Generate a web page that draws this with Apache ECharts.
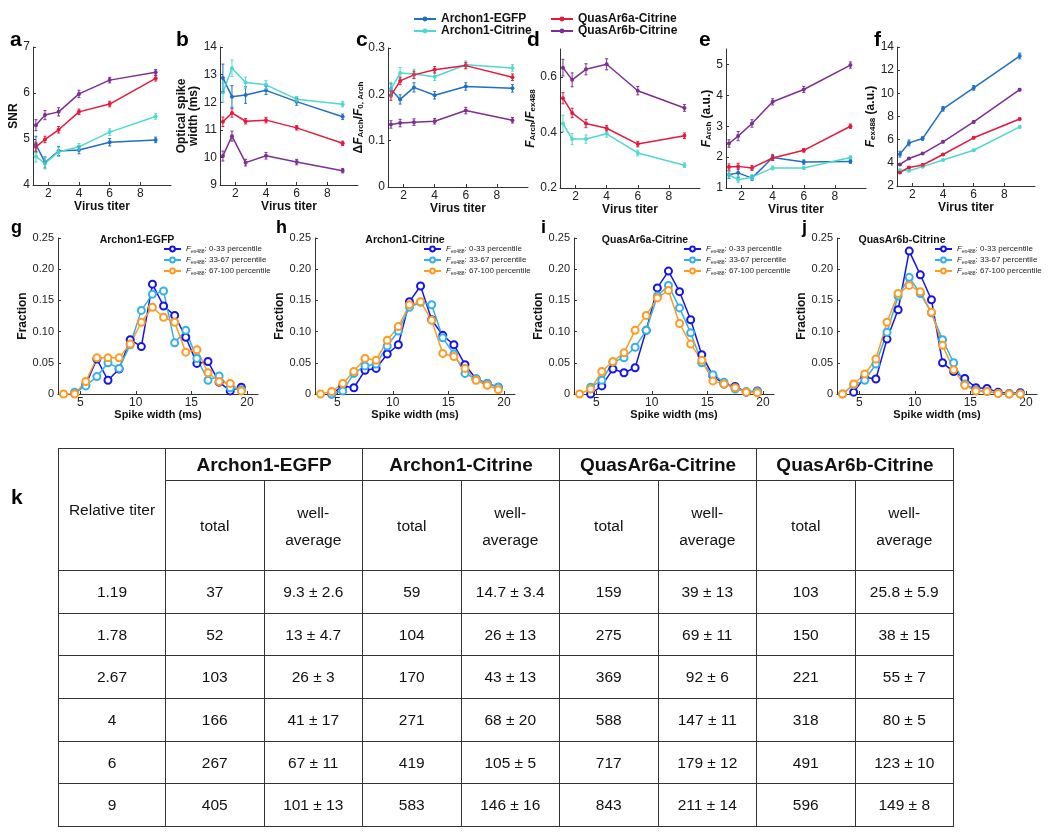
<!DOCTYPE html>
<html>
<head>
<meta charset="utf-8">
<script src="https://cdn.jsdelivr.net/npm/echarts@6/dist/echarts.min.js"></script>
<style>
  body { margin: 0; background: #fff; }
  #wrap { position: relative; width: 1050px; height: 836px; }
  #chart { position: absolute; left: 0; top: 0; width: 1050px; height: 836px; }
  #tbl {
    position: absolute; left: 58px; top: 448px;
    border-collapse: collapse; table-layout: fixed; width: 895px;
    font-family: "Liberation Sans", Arial, sans-serif; font-size: 15.5px; color: #111;
  }
  #tbl td { border: 1.5px solid #333; text-align: center; padding: 0; }
  #tbl .grp { font-weight: bold; font-size: 19px; height: 31px; }
  #tbl .sub td { height: 89px; line-height: 27px; }
  #tbl .row td { height: 41.7px; }
</style>
</head>
<body>
<div id="wrap">
  <div id="chart"></div>
  <table id="tbl"></table>
</div>
<script>
// ---- top row (a-f): values at each virus titer ----
const titerX = [1.19, 1.78, 2.67, 4, 6, 9];
const constructs = ['Archon1-EGFP', 'Archon1-Citrine', 'QuasAr6a-Citrine', 'QuasAr6b-Citrine'];

// a: SNR
const snrEgfp = [4.88, 4.49, 4.74, 4.76, 4.93, 4.98];
const snrEgfpErr = [0.18, 0.12, 0.1, 0.08, 0.08, 0.06];
const snrCit = [4.62, 4.47, 4.72, 4.83, 5.15, 5.49];
const snrCitErr = [0.12, 0.12, 0.1, 0.07, 0.07, 0.06];
const snr6a = [4.83, 4.99, 5.2, 5.59, 5.76, 6.32];
const snr6aErr = [0.1, 0.07, 0.07, 0.06, 0.06, 0.06];
const snr6b = [5.3, 5.52, 5.59, 5.98, 6.28, 6.45];
const snr6bErr = [0.12, 0.1, 0.09, 0.08, 0.06, 0.06];

// b: optical spike width (ms)
const wEgfp = [12.88, 12.2, 12.26, 12.43, 12.02, 11.47];
const wEgfpErr = [0.5, 0.4, 0.3, 0.15, 0.13, 0.1];
const wCit = [12.35, 13.23, 12.71, 12.63, 12.11, 11.93];
const wCitErr = [0.35, 0.3, 0.2, 0.15, 0.1, 0.1];
const w6a = [11.29, 11.61, 11.31, 11.35, 11.07, 10.51];
const w6aErr = [0.17, 0.15, 0.1, 0.1, 0.08, 0.08];
const w6b = [10.05, 10.77, 9.81, 10.06, 9.83, 9.52];
const w6bErr = [0.18, 0.18, 0.12, 0.12, 0.1, 0.08];

// c: dF/F
const dfEgfp = [0.211, 0.189, 0.215, 0.198, 0.217, 0.213];
const dfEgfpErr = [0.012, 0.01, 0.01, 0.008, 0.008, 0.008];
const dfCit = [0.211, 0.246, 0.244, 0.238, 0.264, 0.257];
const dfCitErr = [0.015, 0.012, 0.01, 0.008, 0.008, 0.007];
const df6a = [0.197, 0.229, 0.242, 0.253, 0.262, 0.237];
const df6aErr = [0.01, 0.008, 0.008, 0.007, 0.007, 0.007];
const df6b = [0.135, 0.138, 0.14, 0.142, 0.165, 0.144];
const df6bErr = [0.008, 0.008, 0.007, 0.006, 0.007, 0.006];

// d: F_Arch / F_ex488 (no EGFP)
const ratioCit = [0.432, 0.376, 0.376, 0.395, 0.326, 0.282];
const ratioCitErr = [0.03, 0.02, 0.015, 0.012, 0.01, 0.008];
const ratio6a = [0.523, 0.47, 0.432, 0.415, 0.358, 0.388];
const ratio6aErr = [0.02, 0.017, 0.015, 0.01, 0.01, 0.01];
const ratio6b = [0.633, 0.589, 0.627, 0.645, 0.55, 0.488];
const ratio6bErr = [0.03, 0.025, 0.02, 0.02, 0.015, 0.012];

// e: F_Arch (a.u.)
const fArchEgfp = [1.43, 1.49, 1.32, 1.99, 1.84, 1.86];
const fArchEgfpErr = [0.12, 0.15, 0.08, 0.1, 0.07, 0.06];
const fArchCit = [1.43, 1.27, 1.35, 1.65, 1.65, 1.99];
const fArchCitErr = [0.1, 0.1, 0.08, 0.06, 0.05, 0.05];
const fArch6a = [1.68, 1.7, 1.65, 1.97, 2.22, 3.0];
const fArch6aErr = [0.1, 0.1, 0.08, 0.08, 0.06, 0.07];
const fArch6b = [2.44, 2.68, 3.09, 3.79, 4.19, 4.98];
const fArch6bErr = [0.12, 0.15, 0.12, 0.1, 0.1, 0.1];

// f: F_ex488 (a.u.)
const f488Egfp = [4.75, 5.72, 6.1, 8.66, 10.47, 13.22];
const f488EgfpErr = [0.25, 0.25, 0.15, 0.2, 0.2, 0.25];
const f488Cit = [3.37, 3.31, 3.67, 4.24, 5.09, 7.1];
const f488CitErr = [0.08, 0.08, 0.08, 0.08, 0.08, 0.08];
const f4886a = [3.17, 3.6, 3.81, 4.72, 6.16, 7.79];
const f4886aErr = [0.08, 0.08, 0.08, 0.08, 0.08, 0.08];
const f4886b = [3.86, 4.37, 4.8, 5.81, 7.53, 10.32];
const f4886bErr = [0.08, 0.08, 0.08, 0.08, 0.08, 0.1];

// ---- bottom row (g-j): spike width histograms ----
const binX = [3.5, 4.5, 5.5, 6.5, 7.5, 8.5, 9.5, 10.5, 11.5, 12.5, 13.5, 14.5, 15.5, 16.5, 17.5, 18.5, 19.5];
const pctNames = ['0-33 percentile', '33-67 percentile', '67-100 percentile'];

const gLow = [null, 0.001, 0.015, 0.056, 0.022, 0.04, 0.087, 0.076, 0.176, 0.141, 0.126, 0.091, 0.049, 0.052, 0.019, 0.005, 0.011];
const gMid = [null, 0.003, 0.013, 0.028, 0.05, 0.041, 0.079, 0.134, 0.16, 0.165, 0.082, 0.102, 0.057, 0.022, 0.029, 0.01, 0.007];
const gHigh = [0, 0, 0.02, 0.058, 0.058, 0.058, 0.08, 0.115, 0.139, 0.123, 0.115, 0.067, 0.071, 0.034, 0.02, 0.017, 0.005];

const hLow = [null, 0, 0.013, 0.01, 0.038, 0.041, 0.064, 0.079, 0.148, 0.173, 0.119, 0.094, 0.079, 0.047, 0.024, 0.017, 0.011];
const hMid = [null, 0, 0.005, 0.033, 0.045, 0.048, 0.077, 0.101, 0.139, 0.147, 0.143, 0.09, 0.064, 0.033, 0.024, 0.017, 0.011];
const hHigh = [0, 0.004, 0.017, 0.036, 0.057, 0.054, 0.086, 0.108, 0.143, 0.148, 0.118, 0.065, 0.06, 0.041, 0.022, 0.014, 0.007];

const iLow = [null, 0, 0.013, 0.04, 0.034, 0.042, 0.102, 0.17, 0.197, 0.164, 0.119, 0.063, 0.029, 0.016, 0.012, 0.003, 0.005];
const iMid = [null, 0.011, 0.022, 0.051, 0.058, 0.075, 0.102, 0.157, 0.174, 0.138, 0.098, 0.05, 0.031, 0.019, 0.008, 0.004, 0.004];
const iHigh = [0, 0.008, 0.036, 0.052, 0.066, 0.102, 0.126, 0.154, 0.166, 0.113, 0.08, 0.054, 0.021, 0.016, 0.01, 0.003, 0.002];

const jLow = [null, 0.003, 0.027, 0.024, 0.088, 0.135, 0.229, 0.191, 0.151, 0.05, 0.036, 0.025, 0.01, 0.009, 0.003, 0.001, 0.002];
const jMid = [0, 0.015, 0.022, 0.048, 0.099, 0.157, 0.187, 0.161, 0.13, 0.087, 0.05, 0.016, 0.006, 0.004, 0.001, 0, 0];
const jHigh = [0, 0.016, 0.032, 0.056, 0.115, 0.161, 0.174, 0.164, 0.131, 0.078, 0.039, 0.014, 0.005, 0.004, 0.001, 0, 0];

// ---- table (k) ----
const titerLabels = ['1.19', '1.78', '2.67', '4', '6', '9'];
const egfpTotal = [37, 52, 103, 166, 267, 405];
const egfpAvg = ['9.3 ± 2.6', '13 ± 4.7', '26 ± 3', '41 ± 17', '67 ± 11', '101 ± 13'];
const citTotal = [59, 104, 170, 271, 419, 583];
const citAvg = ['14.7 ± 3.4', '26 ± 13', '43 ± 13', '68 ± 20', '105 ± 5', '146 ± 16'];
const q6aTotal = [159, 275, 369, 588, 717, 843];
const q6aAvg = ['39 ± 13', '69 ± 11', '92 ± 6', '147 ± 11', '179 ± 12', '211 ± 14'];
const q6bTotal = [103, 150, 221, 318, 491, 596];
const q6bAvg = ['25.8 ± 5.9', '38 ± 15', '55 ± 7', '80 ± 5', '123 ± 10', '149 ± 8'];

// ---- styling ----
const FONT = '"Liberation Sans", Arial, Helvetica, sans-serif';
const colors = { 'Archon1-EGFP': '#1f6fc5', 'Archon1-Citrine': '#4fd8cf', 'QuasAr6a-Citrine': '#e8183d', 'QuasAr6b-Citrine': '#7d2f92' };
const pctColors = ['#1515e6', '#35b0ea', '#ff9b21'];
const AX = '#333';

const nameRich = {
  n: { fontFamily: FONT, fontWeight: 'bold', fontSize: 12, color: '#111' },
  i: { fontFamily: FONT, fontWeight: 'bold', fontStyle: 'italic', fontSize: 12, color: '#111' },
  s: { fontFamily: FONT, fontWeight: 'bold', fontSize: 8, color: '#111', verticalAlign: 'bottom', padding: [6, 0, 0, 0] }
};

// layout of the top panels
const topPanels = [
  { grid: { left: 33, top: 47, width: 138, height: 138 }, min: 4, max: 7, ticks: [4, 5, 6, 7],
    name: 'SNR', gap: 12, fmt: v => String(v),
    sets: [['Archon1-EGFP', snrEgfp, snrEgfpErr], ['Archon1-Citrine', snrCit, snrCitErr], ['QuasAr6a-Citrine', snr6a, snr6aErr], ['QuasAr6b-Citrine', snr6b, snr6bErr]] },
  { grid: { left: 220, top: 47, width: 138, height: 138 }, min: 9, max: 14, ticks: [9, 10, 11, 12, 13, 14],
    name: '{n|Optical spike}\n{n|width (ms)}', gap: 9, fmt: v => String(v),
    sets: [['Archon1-EGFP', wEgfp, wEgfpErr], ['Archon1-Citrine', wCit, wCitErr], ['QuasAr6a-Citrine', w6a, w6aErr], ['QuasAr6b-Citrine', w6b, w6bErr]] },
  { grid: { left: 388, top: 48, width: 140, height: 139 }, min: 0, max: 0.3, ticks: [0, 0.1, 0.2, 0.3],
    name: '{n|Δ}{i|F}{s|Arch}{n|/}{i|F}{s|0, Arch}', gap: 13, fmt: v => String(v),
    sets: [['Archon1-EGFP', dfEgfp, dfEgfpErr], ['Archon1-Citrine', dfCit, dfCitErr], ['QuasAr6a-Citrine', df6a, df6aErr], ['QuasAr6b-Citrine', df6b, df6bErr]] },
  { grid: { left: 560, top: 49, width: 140, height: 139 }, min: 0.2, max: 0.7, ticks: [0.2, 0.4, 0.6],
    name: '{i|F}{s|Arch}{n|/}{i|F}{s|ex488}', gap: 13, fmt: v => String(v),
    sets: [['Archon1-Citrine', ratioCit, ratioCitErr], ['QuasAr6a-Citrine', ratio6a, ratio6aErr], ['QuasAr6b-Citrine', ratio6b, ratio6bErr]] },
  { grid: { left: 726, top: 49, width: 140, height: 139 }, min: 1, max: 5.5, ticks: [1, 2, 3, 4, 5],
    name: '{i|F}{s|Arch}{n| (a.u.)}', gap: 4, fmt: v => String(v),
    sets: [['Archon1-EGFP', fArchEgfp, fArchEgfpErr], ['Archon1-Citrine', fArchCit, fArchCitErr], ['QuasAr6a-Citrine', fArch6a, fArch6aErr], ['QuasAr6b-Citrine', fArch6b, fArch6bErr]] },
  { grid: { left: 897, top: 47, width: 138, height: 139 }, min: 2, max: 14, ticks: [2, 4, 6, 8, 10, 12, 14],
    name: '{i|F}{s|ex488}{n| (a.u.)}', gap: 5, fmt: v => String(v),
    sets: [['Archon1-EGFP', f488Egfp, f488EgfpErr], ['Archon1-Citrine', f488Cit, f488CitErr], ['QuasAr6a-Citrine', f4886a, f4886aErr], ['QuasAr6b-Citrine', f4886b, f4886bErr]] }
];

const histPanels = [
  { grid: { left: 58, top: 238, width: 200, height: 156 }, title: 'Archon1-EGFP', tx: 137, legendLeft: 163, sets: [gLow, gMid, gHigh] },
  { grid: { left: 315, top: 238, width: 200, height: 156 }, title: 'Archon1-Citrine', tx: 405, legendLeft: 423, sets: [hLow, hMid, hHigh] },
  { grid: { left: 574, top: 238, width: 200, height: 156 }, title: 'QuasAr6a-Citrine', tx: 645, legendLeft: 683, sets: [iLow, iMid, iHigh] },
  { grid: { left: 837, top: 238, width: 200, height: 156 }, title: 'QuasAr6b-Citrine', tx: 902, legendLeft: 934, sets: [jLow, jMid, jHigh] }
];

const axisBase = {
  axisLine: { show: true, onZero: false, lineStyle: { color: AX, width: 1 } },
  splitLine: { show: false }
};

function tickCfg(values) {
  return { show: true, inside: true, length: 3, customValues: values, lineStyle: { color: AX } };
}

function labelCfg(values, fmt, margin) {
  return { customValues: values, formatter: fmt, fontFamily: FONT, fontSize: 12, color: '#222', margin: margin };
}

// error bars via custom series, positioned with the grid's own scales
function errorBars(params, api) {
  const x = api.value(0), y = api.value(1), e = api.value(2);
  const hi = api.coord([x, y + e]);
  const lo = api.coord([x, y - e]);
  const color = api.visual('color');
  const style = { stroke: color, lineWidth: 1 };
  return {
    type: 'group',
    children: [
      { type: 'line', shape: { x1: hi[0], y1: hi[1], x2: lo[0], y2: lo[1] }, style },
      { type: 'line', shape: { x1: hi[0] - 1.5, y1: hi[1], x2: hi[0] + 1.5, y2: hi[1] }, style },
      { type: 'line', shape: { x1: lo[0] - 1.5, y1: lo[1], x2: lo[0] + 1.5, y2: lo[1] }, style }
    ]
  };
}

const grid = [], xAxis = [], yAxis = [], series = [], legend = [], graphic = [];

topPanels.forEach((p, gi) => {
  grid.push(p.grid);
  xAxis.push(Object.assign({}, axisBase, {
    type: 'value', gridIndex: gi, min: 1, max: 10,
    name: 'Virus titer', nameLocation: 'middle', nameGap: 12,
    nameTextStyle: { fontFamily: FONT, fontWeight: 'bold', fontSize: 12, color: '#111' },
    axisTick: tickCfg([2, 4, 6, 8]), axisLabel: labelCfg([2, 4, 6, 8], v => String(v), 3)
  }));
  yAxis.push(Object.assign({}, axisBase, {
    type: 'value', gridIndex: gi, min: p.min, max: p.max,
    name: p.name, nameLocation: 'middle', nameGap: p.gap, nameRotate: 90,
    nameTextStyle: { fontFamily: FONT, fontWeight: 'bold', fontSize: 12, color: '#111', lineHeight: 12, rich: nameRich },
    axisTick: tickCfg(p.ticks), axisLabel: labelCfg(p.ticks, p.fmt, 3)
  }));
  p.sets.forEach(([name, vals, errs]) => {
    const c = colors[name];
    series.push({
      type: 'line', name, xAxisIndex: gi, yAxisIndex: gi,
      data: titerX.map((x, i) => [x, vals[i]]),
      symbol: 'circle', symbolSize: 4, showSymbol: true,
      lineStyle: { width: 1.5, color: c }, itemStyle: { color: c },
      animation: false, z: 2
    });
    series.push({
      type: 'custom', name, xAxisIndex: gi, yAxisIndex: gi,
      data: titerX.map((x, i) => [x, vals[i], errs[i]]),
      renderItem: errorBars, itemStyle: { color: c },
      animation: false, z: 3
    });
  });
});

histPanels.forEach((p, k) => {
  const gi = topPanels.length + k;
  grid.push(p.grid);
  xAxis.push(Object.assign({}, axisBase, {
    type: 'value', gridIndex: gi, min: 3, max: 21,
    name: 'Spike width (ms)', nameLocation: 'middle', nameGap: 9,
    nameTextStyle: { fontFamily: FONT, fontWeight: 'bold', fontSize: 11, color: '#111' },
    axisTick: tickCfg([5, 10, 15, 20]), axisLabel: labelCfg([5, 10, 15, 20], v => String(v), 3)
  }));
  yAxis.push(Object.assign({}, axisBase, {
    type: 'value', gridIndex: gi, min: 0, max: 0.25, interval: 0.05,
    name: 'Fraction', nameLocation: 'middle', nameGap: 22, nameRotate: 90,
    nameTextStyle: { fontFamily: FONT, fontWeight: 'bold', fontSize: 12, color: '#111' },
    axisTick: { show: true, inside: true, length: 3, lineStyle: { color: AX } },
    axisLabel: { formatter: v => (v === 0 ? '0' : v.toFixed(2)), fontFamily: FONT, fontSize: 11, color: '#222', margin: 4 }
  }));
  p.sets.forEach((vals, si) => {
    series.push({
      type: 'line', name: pctNames[si], xAxisIndex: gi, yAxisIndex: gi,
      data: binX.map((x, i) => [x, vals[i]]),
      symbol: 'emptyCircle', symbolSize: 7,
      lineStyle: { width: 1.5, color: pctColors[si] },
      itemStyle: { color: pctColors[si], borderWidth: 1.5, borderColor: pctColors[si] },
      animation: false
    });
  });
  legend.push({
    data: pctNames, orient: 'vertical', left: p.legendLeft, top: 244, padding: 0,
    itemWidth: 17, itemHeight: 6, itemGap: 1, selectedMode: false,
    formatter: name => '{i|F}{s|ex488}: ' + name,
    textStyle: {
      fontFamily: FONT, fontSize: 8, color: '#222', lineHeight: 10,
      rich: {
        i: { fontFamily: FONT, fontStyle: 'italic', fontSize: 8, color: '#222' },
        s: { fontFamily: FONT, fontSize: 5, color: '#222', verticalAlign: 'bottom', padding: [4, 0, 0, 0] }
      }
    }
  });
  graphic.push({
    type: 'text', x: p.tx, y: 240,
    style: { text: p.title, fontFamily: FONT, fontWeight: 'bold', fontSize: 10.5, fill: '#111', align: 'center', verticalAlign: 'middle' }
  });
});

// top legend in two columns
legend.push({
  data: constructs.slice(0, 2), orient: 'vertical', left: 413, top: 13, padding: 0,
  itemWidth: 22, itemHeight: 6, itemGap: 0, selectedMode: false,
  textStyle: { fontFamily: FONT, fontWeight: 'bold', fontSize: 12, lineHeight: 12, color: '#111' }
});
legend.push({
  data: constructs.slice(2), orient: 'vertical', left: 550, top: 13, padding: 0,
  itemWidth: 22, itemHeight: 6, itemGap: 0, selectedMode: false,
  textStyle: { fontFamily: FONT, fontWeight: 'bold', fontSize: 12, lineHeight: 12, color: '#111' }
});

// panel letters
const letters = [
  ['a', 10, 40, 21], ['b', 176, 40, 21], ['c', 356, 40, 21], ['d', 527, 40, 21], ['e', 699, 40, 21], ['f', 874, 40, 21],
  ['g', 11, 228, 18], ['h', 276, 228, 18], ['i', 541, 228, 18], ['j', 802, 228, 18], ['k', 11, 498, 21]
];
letters.forEach(([t, x, y, s]) => {
  graphic.push({
    type: 'text', x, y,
    style: { text: t, fontFamily: FONT, fontWeight: 'bold', fontSize: s, fill: '#000', align: 'left', verticalAlign: 'middle' }
  });
});

const chart = echarts.init(document.getElementById('chart'), null, { renderer: 'canvas' });
chart.setOption({
  backgroundColor: '#fff',
  animation: false,
  grid, xAxis, yAxis, series, legend, graphic
});

// build the table from the arrays
const totals = [egfpTotal, citTotal, q6aTotal, q6bTotal];
const avgs = [egfpAvg, citAvg, q6aAvg, q6bAvg];
let html = '<colgroup><col style="width:107px">' + '<col style="width:98.5px">'.repeat(8) + '</colgroup>';
html += '<tr><td rowspan="2">Relative titer</td>' + constructs.map(c => `<td colspan="2" class="grp">${c}</td>`).join('') + '</tr>';
html += '<tr class="sub">' + constructs.map(() => '<td>total</td><td>well-<br>average</td>').join('') + '</tr>';
titerLabels.forEach((t, i) => {
  html += `<tr class="row"><td>${t}</td>` + totals.map((tot, k) => `<td>${tot[i]}</td><td>${avgs[k][i]}</td>`).join('') + '</tr>';
});
document.getElementById('tbl').innerHTML = html;
</script>
</body>
</html>
